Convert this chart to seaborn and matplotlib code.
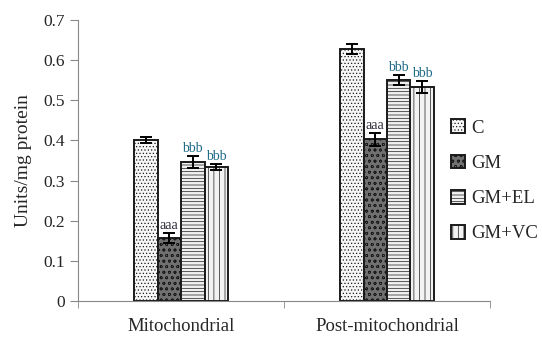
import seaborn as sns
import pandas as pd
import numpy as np
import matplotlib.pyplot as plt

fractions = ['Mitochondrial', 'Post-mitochondrial']
groups = ['C', 'GM', 'GM+EL', 'GM+VC']
mito = [0.401, 0.157, 0.346, 0.334]
post = [0.628, 0.403, 0.550, 0.532]
mito_err = [0.008, 0.012, 0.015, 0.008]
post_err = [0.012, 0.016, 0.012, 0.015]
mito_sig = ['', 'aaa', 'bbb', 'bbb']
post_sig = ['', 'aaa', 'bbb', 'bbb']

data = pd.DataFrame({
    'fraction': np.repeat(fractions, len(groups)),
    'group': groups * 2,
    'value': mito + post,
    'err': mito_err + post_err,
    'sig': mito_sig + post_sig,
})

sns.set_style('white')
plt.rcParams['font.family'] = ['Liberation Serif', 'DejaVu Serif']
plt.rcParams['hatch.linewidth'] = 0.5

fig = plt.figure(figsize=(5.42, 3.39), dpi=100)
ax = fig.add_axes([0.144, 0.112, 0.76, 0.829])

colors = ['#f6f6f6', '#707070', '#f0f0f0', '#f2f2f2']
hatches = ['.....', 'ooo', '-----', '|||']
sns.barplot(data=data, x='fraction', y='value', hue='group',
            palette=colors, width=0.456, errorbar=None, ax=ax,
            edgecolor='#1a1a1a', linewidth=1.4)

for i, g in enumerate(groups):
    for j, patch in enumerate(ax.containers[i].patches):
        patch.set_hatch(hatches[i])
        row = data[(data.group == g) & (data.fraction == fractions[j])].iloc[0]
        xc = patch.get_x() + patch.get_width() / 2
        ax.errorbar(xc, row.value, yerr=row.err, fmt='none', ecolor='black',
                    elinewidth=1.4, capsize=4, capthick=1.4)
        if row.sig:
            col = '#2b2b3a' if row.sig == 'aaa' else '#1f6a86'
            ax.text(xc, row.value + row.err + 0.003, row.sig, ha='center',
                    va='bottom', fontsize=10, color=col)

ax.set_xlim(-0.5, 1.5)
ax.set_ylim(0, 0.7)
ax.set_yticks(np.arange(0, 0.71, 0.1))
ax.set_yticklabels(['0'] + ['%.1f' % v for v in np.arange(0.1, 0.71, 0.1)])
ax.set_xticks([-0.5, 0.5, 1.5], minor=True)
ax.set_xlabel('')
ax.set_ylabel('Units/mg protein', fontsize=14, labelpad=8)
ax.tick_params(axis='y', labelsize=12.5, length=6, color='#888888', direction='out', left=True)
ax.tick_params(axis='x', which='major', labelsize=13.5, length=0, pad=12)
ax.tick_params(axis='x', which='minor', length=5, color='#888888', direction='out', bottom=True)
for s in ['top', 'right']:
    ax.spines[s].set_visible(False)
for s in ['left', 'bottom']:
    ax.spines[s].set_color('#888888')

leg = ax.legend(loc='upper left', bbox_to_anchor=(442 / 542, 1 - 110 / 339),
                bbox_transform=fig.transFigure, frameon=False,
                fontsize=13.5, handlelength=0.75, handleheight=0.75, labelspacing=0.95,
                handletextpad=0.3, borderpad=0)
for h, hat in zip(leg.legend_handles, hatches):
    h.set_hatch(hat)

fig.savefig('out.png', dpi=100)
